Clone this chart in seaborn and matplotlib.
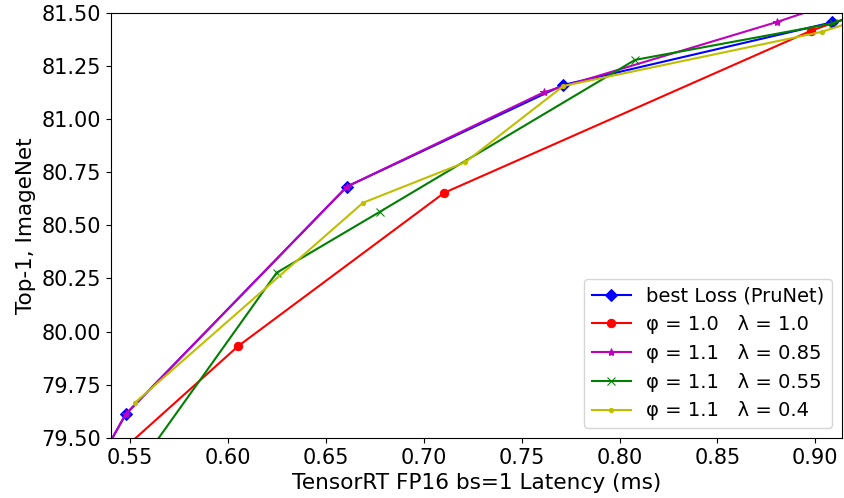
import numpy as np
import pandas as pd
import matplotlib
matplotlib.use('Agg')
import matplotlib.pyplot as plt
import seaborn as sns

# latency (ms) vs top-1 accuracy
best_x = [0.535, 0.5478, 0.6608, 0.7713, 0.9087]
best_y = [79.40, 79.611, 80.682, 81.160, 81.455]

r10_x = [0.530, 0.6053, 0.7105, 0.8978, 0.930]
r10_y = [79.31, 79.932, 80.653, 81.415, 81.52]

r085_x = [0.535, 0.5478, 0.6608, 0.7614, 0.8803, 0.930]
r085_y = [79.40, 79.611, 80.682, 81.126, 81.456, 81.61]

r055_x = [0.550, 0.6249, 0.6777, 0.8079, 0.9091, 0.930]
r055_y = [79.31, 80.277, 80.564, 81.278, 81.450, 81.52]

r04_x = [0.5526, 0.669, 0.7211, 0.7713, 0.9033, 0.930]
r04_y = [79.666, 80.606, 80.796, 81.155, 81.410, 81.49]

labels = ['best Loss (PruNet)',
          'φ = 1.0   λ = 1.0',
          'φ = 1.1   λ = 0.85',
          'φ = 1.1   λ = 0.55',
          'φ = 1.1   λ = 0.4']

series = [(best_x, best_y, 'b', 'D', 6),
          (r10_x, r10_y, 'r', 'o', 6),
          (r085_x, r085_y, 'm', '*', 6),
          (r055_x, r055_y, 'g', 'x', 6),
          (r04_x, r04_y, 'y', '.', 6)]

fig, ax = plt.subplots(figsize=(8.44, 4.98), dpi=100)
for (xs, ys, c, m, ms), lab in zip(series, labels):
    d = pd.DataFrame({'x': xs, 'y': ys})
    sns.lineplot(data=d, x='x', y='y', sort=False, ax=ax, color=c, marker=m,
                 markersize=ms, markeredgecolor=c, linewidth=1.5, label=lab)

ax.set_xlim(0.5401, 0.9136)
ax.set_ylim(79.5, 81.5)
ax.set_xticks(np.arange(0.55, 0.901, 0.05))
ax.set_yticks(np.arange(79.5, 81.51, 0.25))
ax.set_xlabel('TensorRT FP16 bs=1 Latency (ms)', fontsize=15.6)
ax.set_ylabel('Top-1, ImageNet', fontsize=15.5)
ax.tick_params(labelsize=15)
ax.legend(loc='lower right', fontsize=14)

fig.subplots_adjust(left=0.131, right=0.9976, top=0.9745, bottom=0.1207)
fig.savefig('out.png', dpi=100)
